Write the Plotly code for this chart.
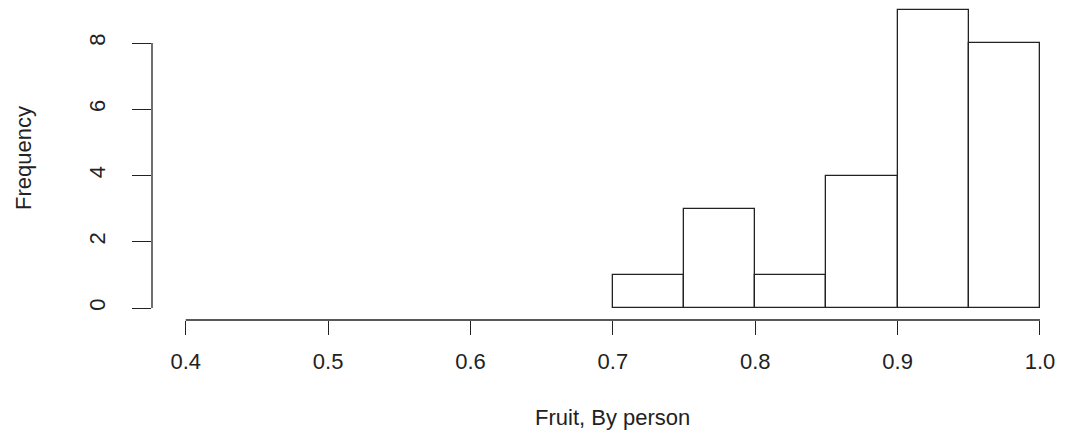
import plotly.graph_objects as go

bin_left = [0.70, 0.75, 0.80, 0.85, 0.90, 0.95]
bin_width = 0.05
counts = [1, 3, 1, 4, 9, 8]
x_ticks = [0.4, 0.5, 0.6, 0.7, 0.8, 0.9, 1.0]
x_tick_text = ["0.4", "0.5", "0.6", "0.7", "0.8", "0.9", "1.0"]
y_ticks = [0, 2, 4, 6, 8]
x_title = "Fruit, By person"
y_title = "Frequency"

FONT = "Liberation Sans, Arial, Helvetica, sans-serif"
INK = "#222222"

centers = [b + bin_width / 2 for b in bin_left]

fig = go.Figure()
fig.add_trace(go.Bar(
    x=centers, y=counts, width=[bin_width] * len(counts),
    marker=dict(color="white", line=dict(color=INK, width=1.3)),
    hoverinfo="skip", showlegend=False,
))

# page body adds an 8px offset; figure coordinates = window - 8
W, H = 1060, 430
ml, mr, mt, mb = 144, 0, 0, 118
pw = W - ml - mr
ph = H - mt - mb

fig.update_layout(
    width=W, height=H,
    margin=dict(l=ml, r=mr, t=mt, b=mb, pad=0),
    plot_bgcolor="white", paper_bgcolor="white",
    font=dict(family=FONT, size=22, color=INK),
    bargap=0,
    xaxis=dict(
        range=[0.3763, 1.0197], showgrid=False, zeroline=False, showline=False,
        tickmode="array", tickvals=x_ticks, ticktext=x_tick_text,
        ticks="outside", ticklen=14, tickwidth=1.3, tickcolor=INK,
        ticklabelstandoff=8,
        tickfont=dict(size=22, color=INK, family=FONT),
    ),
    yaxis=dict(
        range=[-0.3623, 9.057], showgrid=False, zeroline=False, showline=False,
        tickmode="array", tickvals=y_ticks,
        ticks="outside", ticklen=19, tickwidth=1.3, tickcolor=INK,
        tickangle=-90, ticklabelstandoff=18,
        tickfont=dict(size=22, color=INK, family=FONT),
    ),
    shapes=[
        dict(type="line", xref="x", yref="paper", x0=x_ticks[0], x1=x_ticks[-1],
             y0=0, y1=0, line=dict(color=INK, width=1.3)),
        dict(type="line", xref="paper", yref="y", x0=0, x1=0,
             y0=y_ticks[0], y1=y_ticks[-1], line=dict(color=INK, width=1.3)),
    ],
    annotations=[
        dict(text=x_title, xref="paper", yref="paper",
             x=(604 - ml) / pw, y=(ph - 409) / ph, xanchor="center", yanchor="middle",
             showarrow=False, font=dict(size=22, color=INK, family=FONT)),
        dict(text=y_title, xref="paper", yref="paper", textangle=-90,
             x=(15 - ml) / pw, y=(ph - 150) / ph, xanchor="center", yanchor="middle",
             showarrow=False, font=dict(size=22, color=INK, family=FONT)),
    ],
)

fig.write_html("out.html")
